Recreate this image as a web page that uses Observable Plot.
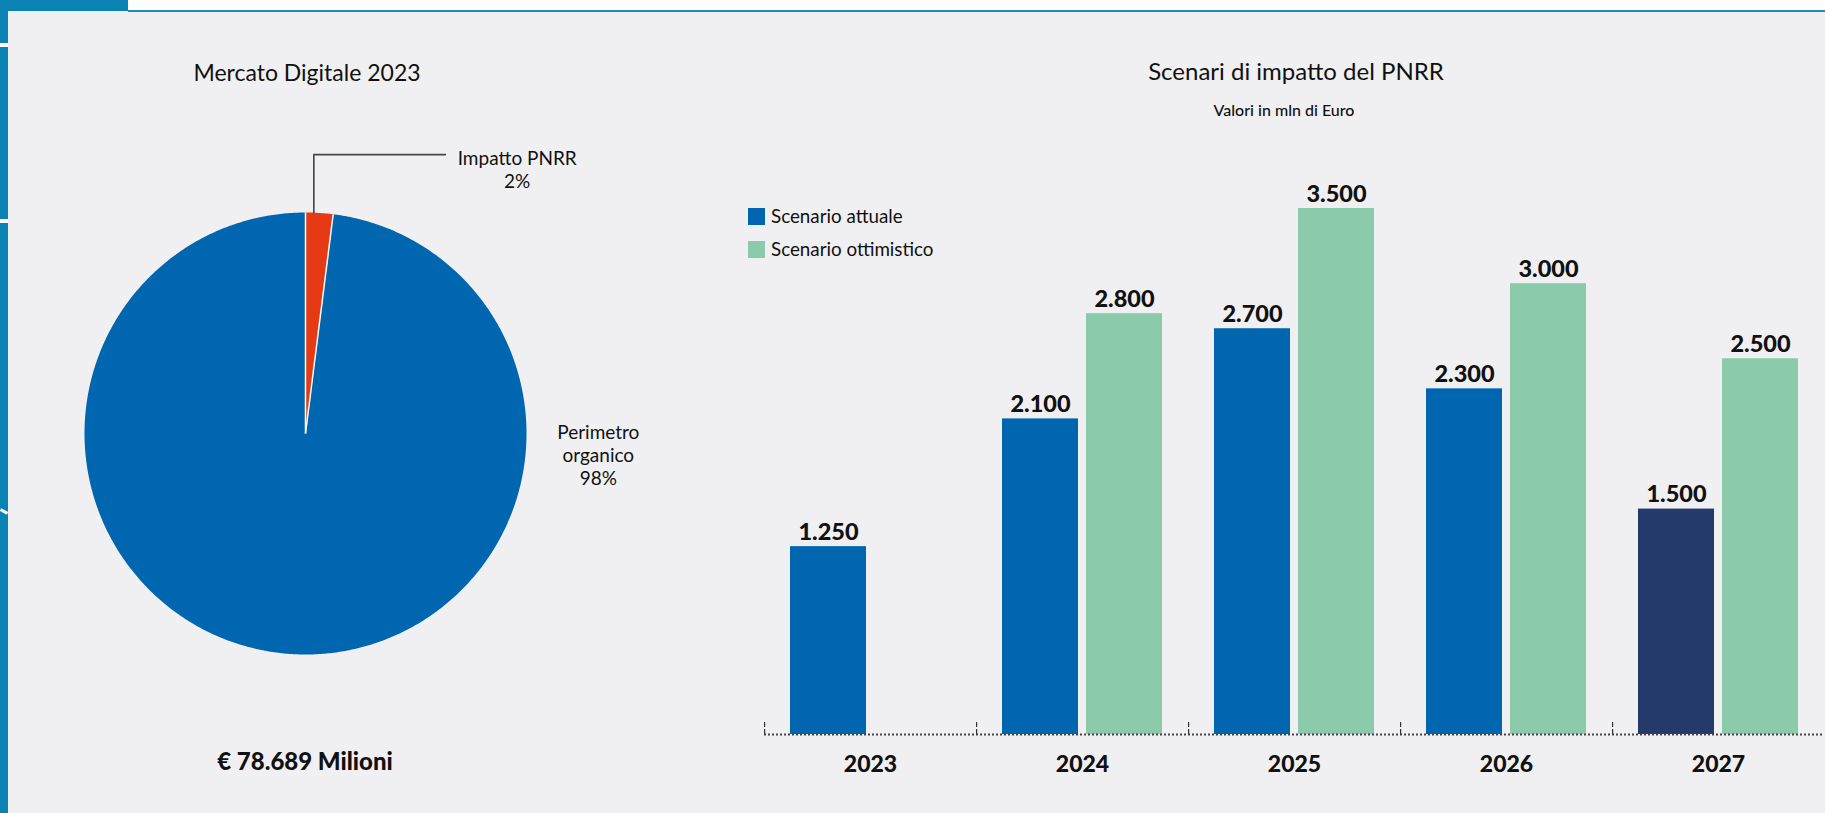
<!DOCTYPE html>
<html>
<head>
<meta charset="utf-8">
<script src="https://cdn.jsdelivr.net/npm/d3@7"></script>
<script src="https://cdn.jsdelivr.net/npm/@observablehq/plot@0.6"></script>
<style>
  html, body { margin: 0; padding: 0; background: #F0F0F2; }
  #root { position: relative; width: 1825px; height: 813px; overflow: hidden; background: #F0F0F2;
          font-family: Lato, "Noto Sans", sans-serif; color: #111; }
  .abs { position: absolute; }
  .t { position: absolute; white-space: nowrap; line-height: 1; }
  .c { transform: translateX(-50%); text-align: center; }
  .leg { position: absolute; left: 748px; display: flex; align-items: center; font-size: 18.8px; line-height: 1; }
  .leg i { display: inline-block; width: 17px; height: 17px; margin-right: 6px; }
  #pie, #bars { position: absolute; top: 0; }
  #pie { left: 0; }
  #bars { left: 700px; }
</style>
</head>
<body>
<div id="root">
  <!-- page frame decorations -->
  <div class="abs" style="left:0;top:0;width:1825px;height:11px;background:#fff;"></div>
  <div class="abs" style="left:0;top:0;width:128px;height:11px;background:#0A82B4;"></div>
  <div class="abs" style="left:128px;top:10px;width:1697px;height:2px;background:#1E8CC2;"></div>
  <div class="abs" style="left:0;top:0;width:8px;height:813px;background:#0A82B4;"></div>
  <div class="abs" style="left:0;top:43px;width:8px;height:4px;background:#fff;"></div>
  <div class="abs" style="left:0;top:219px;width:8px;height:4px;background:#fff;"></div>
  <div class="abs" style="left:0;top:510px;width:8px;height:3px;background:#fff;transform:rotate(28deg);"></div>

  <div id="pie"></div>
  <div id="bars"></div>

  <div class="t c" id="pieTitle" style="left:307px;top:61px;font-size:23px;"></div>
  <div class="t c" id="pieTotal" style="left:305px;top:749px;font-size:24px;font-weight:900;"></div>
  <div class="t c" id="barTitle" style="left:1296px;top:59px;font-size:24px;"></div>
  <div class="t c" id="barSub" style="left:1284px;top:102px;font-size:16px;font-weight:500;"></div>
  <div class="leg" id="leg0" style="top:207px;"></div>
  <div class="leg" id="leg1" style="top:240px;"></div>
</div>
<script>
// ---------------- DATA ----------------
const pieTitle = "Mercato Digitale 2023";
const pieNames = ["Impatto PNRR", "Perimetro organico"];
const pieLabelText = ["Impatto PNRR", "Perimetro\norganico"];
const pieValues = [2, 98];              // percent
const pieTotalText = "€ 78.689 Milioni";

const barTitle = "Scenari di impatto del PNRR";
const barSubtitle = "Valori in mln di Euro";
const years = ["2023", "2024", "2025", "2026", "2027"];
const scenarios = ["Scenario attuale", "Scenario ottimistico"];
const attuale = [1250, 2100, 2700, 2300, 1500];
const ottimistico = [null, 2800, 3500, 3000, 2500];
const highlightYear = "2027";

// ---------------- STYLE / LAYOUT ----------------
const COL_RED = "#E53A14", COL_BLUE = "#0066AF", COL_GREEN = "#8BCAAB", COL_NAVY = "#243A6B";
const pieColors = [COL_RED, COL_BLUE];
const PCX = 305, PCY = 433, PR = 221;
const LEAD_FRAC = 0.3;                                // where along the slice the leader starts
const LEAD_Y = 1.262, LEAD_X = 0.633;                 // elbow of the leader line (radius units)
const pieLabelPos = [[0.958, 1.29], [1.325, 0.05]];   // label anchor (radius units)
const FONT = "Lato, 'Noto Sans', sans-serif";

const fmt = d3.formatLocale({decimal: ",", thousands: ".", grouping: [3], currency: ["€", ""]}).format(",");

// ---------------- TEXTS ----------------
document.getElementById("pieTitle").textContent = pieTitle;
document.getElementById("pieTotal").textContent = pieTotalText;
document.getElementById("barTitle").textContent = barTitle;
document.getElementById("barSub").textContent = barSubtitle;
[COL_BLUE, COL_GREEN].forEach((c, i) => {
  const el = document.getElementById("leg" + i);
  el.innerHTML = `<i style="background:${c}"></i><span></span>`;
  el.querySelector("span").textContent = scenarios[i];
});

// ---------------- PIE ----------------
const arcs = d3.pie().sort(null).value(d => d)(pieValues);
const slicePts = [];
arcs.forEach((a, i) => {
  const n = Math.max(4, Math.ceil((a.endAngle - a.startAngle) / (Math.PI / 360)));
  slicePts.push({name: pieNames[i], px: 0, py: 0});
  for (let k = 0; k <= n; k++) {
    const t = a.startAngle + (a.endAngle - a.startAngle) * k / n;
    slicePts.push({name: pieNames[i], px: Math.sin(t), py: Math.cos(t)});
  }
});
const boundaries = arcs.map(a => ({px: Math.sin(a.startAngle), py: Math.cos(a.startAngle)}));
const lead0 = arcs[0].startAngle + (arcs[0].endAngle - arcs[0].startAngle) * LEAD_FRAC;
const leader = [
  {px: Math.sin(lead0), py: Math.cos(lead0)},
  {px: Math.sin(lead0), py: LEAD_Y},
  {px: LEAD_X, py: LEAD_Y}
];
const pieLabels = pieNames.map((n, i) => ({
  px: pieLabelPos[i][0], py: pieLabelPos[i][1],
  text: pieLabelText[i] + "\n" + pieValues[i] + "%"
}));

const pie = Plot.plot({
  width: 700, height: 813, margin: 0,
  style: {background: "transparent", overflow: "visible", fontFamily: FONT},
  x: {domain: [-1, 1], range: [PCX - PR, PCX + PR], axis: null},
  y: {domain: [-1, 1], range: [PCY + PR, PCY - PR], axis: null},
  color: {domain: pieNames, range: pieColors},
  marks: [
    Plot.line(slicePts, {x: "px", y: "py", z: "name", fill: "name", stroke: "none", curve: "linear-closed"}),
    Plot.link(boundaries, {x1: 0, y1: 0, x2: "px", y2: "py", stroke: "white", strokeWidth: 1.5}),
    Plot.line(leader, {x: "px", y: "py", stroke: "#444", strokeWidth: 1.6}),
    Plot.text(pieLabels, {x: "px", y: "py", text: "text", lineAnchor: "top", lineHeight: 1.22,
      fontSize: 19, fill: "#111", fontFamily: FONT})
  ]
});
document.getElementById("pie").appendChild(pie);

// ---------------- BARS ----------------
const rows = [];
years.forEach((yr, i) => {
  if (attuale[i] != null) rows.push({year: yr, scenario: scenarios[0], value: attuale[i]});
  if (ottimistico[i] != null) rows.push({year: yr, scenario: scenarios[1], value: ottimistico[i]});
});
const barFill = d => d.scenario === scenarios[1] ? COL_GREEN : (d.year === highlightYear ? COL_NAVY : COL_BLUE);

const BW = 1125, ML = 62, MR = 0, MT = 208, MB = 79, BH = 813;
const PIN = 0.094, POUT = 0.3;
const facetW = (BW - ML - MR) / years.length;
const step = facetW / (scenarios.length - PIN + 2 * POUT);
const tickDx = -(POUT * step + (1 - PIN) * step / 2);
const frameH = BH - MT - MB;

const bars = Plot.plot({
  width: BW, height: BH, marginLeft: ML, marginRight: MR, marginTop: MT, marginBottom: MB,
  style: {background: "transparent", overflow: "visible", fontFamily: FONT},
  fx: {domain: years, padding: 0, label: null},
  x: {domain: scenarios, paddingInner: PIN, paddingOuter: POUT, axis: null},
  y: {domain: [0, 3500], axis: null},
  color: {type: "identity"},
  marks: [
    Plot.barY(rows, {fx: "year", x: "scenario", y: "value", fill: barFill}),
    Plot.text(rows, {fx: "year", x: "scenario", y: "value", text: d => fmt(d.value),
      lineAnchor: "bottom", dy: -7, fontSize: 23.5, fontWeight: 900, fill: "#111", fontFamily: FONT}),
    Plot.ruleY([0], {stroke: "#444", strokeWidth: 2, strokeDasharray: "2,2"}),
    Plot.ruleX(years, {fx: d => d, x: () => scenarios[0], dx: tickDx, insetTop: frameH - 12,
      stroke: "#333", strokeWidth: 1.2, strokeDasharray: "5,2"}),
    Plot.axisFx({anchor: "bottom", tickSize: 0, tickPadding: 21, fontSize: 23, fontWeight: 900,
      label: null, fill: "#111", fontFamily: FONT})
  ]
});
document.getElementById("bars").appendChild(bars);
</script>
</body>
</html>
